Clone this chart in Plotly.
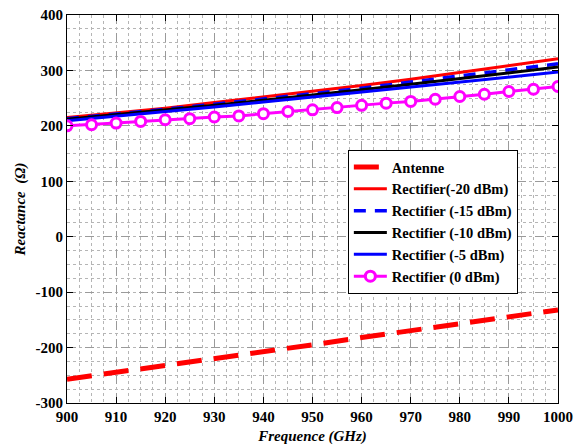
import plotly.graph_objects as go

freq10 = [900, 910, 920, 930, 940, 950, 960, 970, 980, 990, 1000]
freq5 = [900, 905, 910, 915, 920, 925, 930, 935, 940, 945, 950, 955, 960, 965, 970, 975, 980, 985, 990, 995, 1000]

antenne = [-257, -245, -233, -220, -207, -195, -182, -170, -157, -145, -132]
rect_m20 = [215, 223, 232, 242, 252, 262, 273, 284, 296, 308, 321]
rect_m15 = [213, 221, 230, 239, 248, 258, 268, 279, 290, 301, 312]
rect_m10 = [212, 220, 228, 237, 246, 255, 265, 275, 285, 295, 306]
rect_m5 = [209, 217, 225, 234, 243, 252, 261, 270, 279, 288, 297]
rect_0 = [200, 202, 205, 208, 211, 213, 216, 218, 222, 226, 229, 233, 237, 241, 244, 248, 253, 257, 262, 266, 271]

x_ticks = [900, 910, 920, 930, 940, 950, 960, 970, 980, 990, 1000]
y_ticks = [-300, -200, -100, 0, 100, 200, 300, 400]
y_labels = ["-300", "-200", "-100", "0", "100", "200", "300", "400"]

fig = go.Figure()
fig.add_trace(go.Scatter(x=freq10, y=antenne, mode="lines", name="Antenne",
                         line=dict(color="#ff0000", width=5, dash="25px,12px")))
fig.add_trace(go.Scatter(x=freq10, y=rect_m20, mode="lines", name="Rectifier(-20 dBm)",
                         line=dict(color="#ff0000", width=3)))
fig.add_trace(go.Scatter(x=freq10, y=rect_m15, mode="lines", name="Rectifier (-15 dBm)",
                         line=dict(color="#0000ff", width=3.5, dash="12px,9px")))
fig.add_trace(go.Scatter(x=freq10, y=rect_m10, mode="lines", name="Rectifier (-10 dBm)",
                         line=dict(color="#000000", width=3)))
fig.add_trace(go.Scatter(x=freq10, y=rect_m5, mode="lines", name="Rectifier (-5 dBm)",
                         line=dict(color="#0000ff", width=3)))
fig.add_trace(go.Scatter(x=freq5, y=rect_0, mode="lines+markers", name="Rectifier (0 dBm)",
                         line=dict(color="#ff00ff", width=3),
                         marker=dict(symbol="circle", size=10, color="white",
                                     line=dict(color="#ff00ff", width=3))))

font_family = "Liberation Serif"

fig.update_layout(
    width=575, height=448,
    margin=dict(l=67, r=17, t=15, b=45),
    paper_bgcolor="white", plot_bgcolor="white",
    font=dict(family=font_family, color="black"),
    showlegend=True,
    legend=dict(x=0.572, y=0.652, xanchor="left", yanchor="top",
                bgcolor="white", bordercolor="black", borderwidth=1,
                font=dict(family=font_family, size=14.5, color="black", weight="bold"),
                itemwidth=33, tracegroupgap=0),
)

fig.update_xaxes(
    range=[900, 1000], tickvals=x_ticks, automargin=False,
    showline=True, linecolor="black", linewidth=1, mirror="ticks",
    ticks="inside", ticklen=6, tickcolor="black",
    tickfont=dict(family=font_family, size=15, color="black", weight="bold"),
    showgrid=True, gridcolor="#9a9a9a", griddash="dash", gridwidth=1,
    minor=dict(dtick=2.5, showgrid=True, gridcolor="#b5b5b5", griddash="dot", gridwidth=1, ticks=""),
    zeroline=False,
    title=dict(text="<b><i>Frequence (GHz)</i></b>", standoff=6,
               font=dict(family=font_family, size=15, color="black")),
)
fig.update_yaxes(
    range=[-300, 400], tickvals=y_ticks, ticktext=y_labels, automargin=False,
    showline=True, linecolor="black", linewidth=1, mirror="ticks",
    ticks="inside", ticklen=6, tickcolor="black",
    tickfont=dict(family=font_family, size=15, color="black", weight="bold"),
    showgrid=True, gridcolor="#9a9a9a", griddash="dash", gridwidth=1,
    minor=dict(dtick=25, showgrid=True, gridcolor="#b5b5b5", griddash="dot", gridwidth=1, ticks=""),
    zeroline=False,
    title=dict(text="<b><i>Reactance  (Ω)</i></b>", standoff=6,
               font=dict(family=font_family, size=15, color="black")),
)

fig.write_html("out.html", config={"displayModeBar": False},
               post_script="document.body.style.margin='0';")
